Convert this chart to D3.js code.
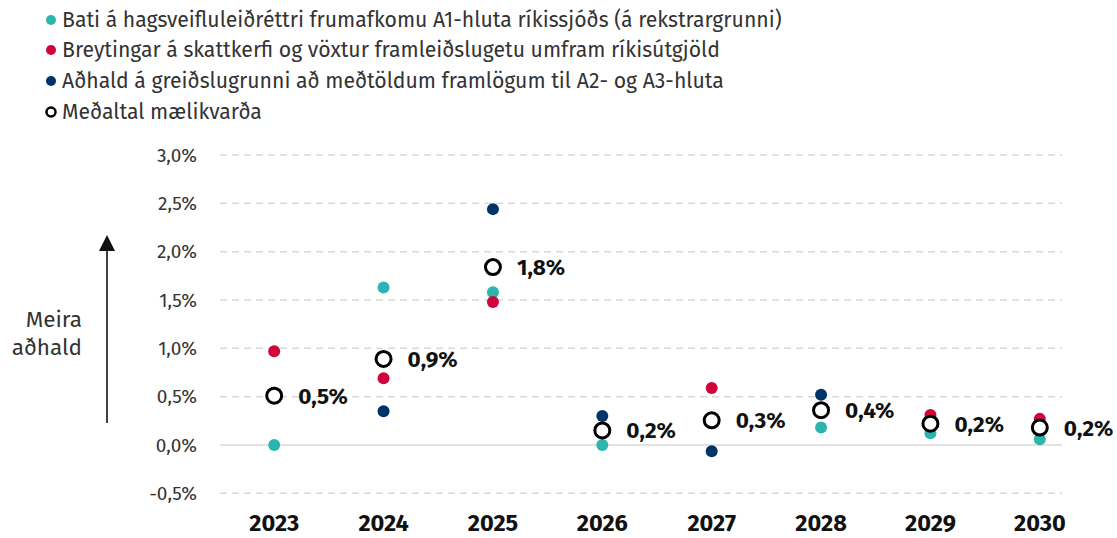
<!DOCTYPE html>
<html><head><meta charset="utf-8">
<script src="https://cdn.jsdelivr.net/npm/d3@7"></script>
<style>body{margin:0;background:#fff}svg{display:block}</style>
</head><body>
<svg id="c" width="1117" height="538"></svg>
<script>
const years = ["2023","2024","2025","2026","2027","2028","2029","2030"];
const bati = [0.0, 1.63, 1.58, 0.0, 0.24, 0.18, 0.12, 0.06];
const breytingar = [0.97, 0.69, 1.48, 0.15, 0.59, 0.38, 0.31, 0.27];
const adhald = [0.54, 0.35, 2.44, 0.30, -0.065, 0.52, 0.23, 0.21];
const medaltal = [0.51, 0.89, 1.84, 0.15, 0.255, 0.36, 0.22, 0.18];
const medaltalLabels = ["0,5%","0,9%","1,8%","0,2%","0,3%","0,4%","0,2%","0,2%"];
const yTicks = [-0.5, 0, 0.5, 1.0, 1.5, 2.0, 2.5, 3.0];
const seriesNames = [
  "Bati á hagsveifluleiðréttri frumafkomu A1-hluta ríkissjóðs (á rekstrargrunni)",
  "Breytingar á skattkerfi og vöxtur framleiðslugetu umfram ríkisútgjöld",
  "Aðhald á greiðslugrunni að meðtöldum framlögum til A2- og A3-hluta",
  "Meðaltal mælikvarða"
];
const colors = ["#2bb5ae", "#d0043c", "#003468"];

const font = "'Fira Sans','Noto Sans',sans-serif";
const svg = d3.select("#c");
const x = d3.scaleBand().domain(years).range([219.5, 1094.5]);
const y = d3.scaleLinear().domain([-0.5, 3.0]).range([493.3, 155]);
const gridRight = 1062, gridLeft = 220;

// grid
svg.append("g").selectAll("line").data(yTicks).join("line")
  .attr("x1", gridLeft).attr("x2", gridRight)
  .attr("y1", d => y(d)).attr("y2", d => y(d))
  .attr("stroke", "#d9d9d9").attr("stroke-width", 1.5)
  .attr("stroke-dasharray", d => d === 0 ? null : "7,5");

// y axis labels
const fmt = d => d3.format(".1f")(d).replace(".", ",").replace("−","-") + "%";
const yAxis = d3.axisLeft(y).tickValues(yTicks).tickFormat(fmt).tickSize(0).tickPadding(0);
const ya = svg.append("g").attr("transform", "translate(197,0)").call(yAxis);
ya.select(".domain").remove();
ya.selectAll("text").attr("font-family", font).attr("font-size", 19).attr("fill", "#333");

// x axis labels
const xAxis = d3.axisBottom(x).tickSize(0).tickPadding(0);
const xa = svg.append("g").attr("transform", "translate(0,514)").call(xAxis);
xa.select(".domain").remove();
xa.selectAll("text").attr("font-family", font).attr("font-size", 23.5).attr("font-weight", "bold").attr("fill", "#111");

// arrow + label
svg.append("line").attr("x1", 107).attr("x2", 107).attr("y1", 423).attr("y2", 250)
  .attr("stroke", "#111").attr("stroke-width", 1.6);
svg.append("path").attr("d", "M99,251L115,251L107,235Z").attr("fill", "#111");
svg.append("text").attr("x", 82).attr("y", 327).attr("text-anchor","end")
  .attr("font-family", font).attr("font-size", 22.5).attr("fill","#333").text("Meira");
svg.append("text").attr("x", 82).attr("y", 355).attr("text-anchor","end")
  .attr("font-family", font).attr("font-size", 22.5).attr("fill","#333").text("aðhald");

// dots
const cx = d => x(d) + x.bandwidth() / 2;
[bati, breytingar, adhald].forEach((vals, i) => {
  svg.append("g").selectAll("circle").data(vals).join("circle")
    .attr("cx", (d, j) => cx(years[j])).attr("cy", d => y(d)).attr("r", 6)
    .attr("fill", colors[i]);
});
// average
svg.append("g").selectAll("circle").data(medaltal).join("circle")
  .attr("cx", (d, j) => cx(years[j])).attr("cy", d => y(d)).attr("r", 7.5)
  .attr("fill", "#fff").attr("stroke", "#000").attr("stroke-width", 3);
svg.append("g").selectAll("text").data(medaltal).join("text")
  .attr("x", (d, j) => cx(years[j]) + 24).attr("y", d => y(d) + 8)
  .attr("font-family", font).attr("font-size", 22.5).attr("font-weight", "bold").attr("fill", "#111")
  .text((d, j) => medaltalLabels[j]);

// legend
const lg = svg.append("g");
const ly = [20, 50, 81, 112];
seriesNames.forEach((n, i) => {
  if (i < 3) lg.append("circle").attr("cx", 51).attr("cy", ly[i]).attr("r", 5).attr("fill", colors[i]);
  else lg.append("circle").attr("cx", 51).attr("cy", ly[i]).attr("r", 4.5).attr("fill", "#fff").attr("stroke", "#000").attr("stroke-width", 2.5);
  lg.append("text").attr("x", 62).attr("y", ly[i] + 7).attr("font-family", font).attr("font-size", 21.2)
    .attr("fill", "#333").text(n);
});
</script>
</body></html>
